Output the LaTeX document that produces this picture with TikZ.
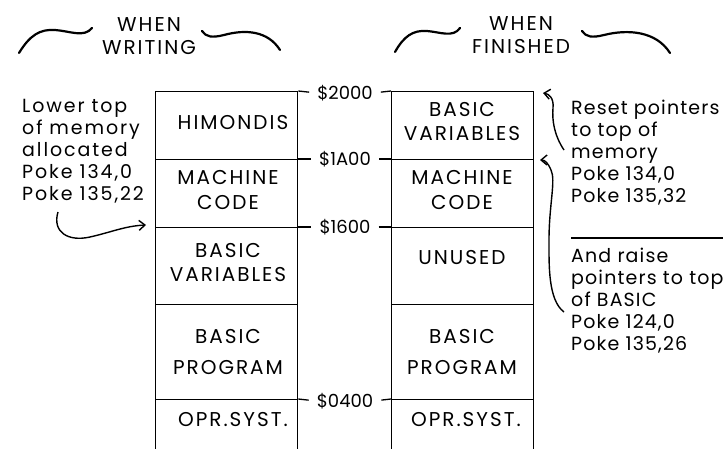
\documentclass[tikz,border=0pt]{standalone}
\usepackage{fontspec}
\setmainfont{Poppins}[LetterSpace=10]
\newfontfamily\addrfont{Poppins}
\newfontfamily\rnotefont{Poppins}[LetterSpace=6]
\usetikzlibrary{arrows.meta}
\begin{document}
\begin{tikzpicture}[x=1pt,y=-1pt,
  wall/.style={line width=1.3pt},
  cell/.style={draw, line width=1.3pt, minimum width=142pt, inner sep=0pt, anchor=north west},
  celltext/.style={align=center, inner sep=0pt, font=\fontsize{20}{24}\selectfont},
  addr/.style={inner sep=0pt, font=\addrfont\fontsize{18}{20}\selectfont},
  head/.style={align=center, inner sep=0pt, font=\fontsize{20}{23}\selectfont},
  note/.style={align=left, inner sep=0pt, anchor=base west, font=\fontsize{19}{22}\selectfont},
  rnote/.style={note, font=\rnotefont\fontsize{19}{22}\selectfont},
  tilde/.style={line width=2.2pt, line cap=round},
  arr/.style={line width=1.4pt, -{Straight Barb[length=6pt,width=10pt]}}
]
\clip (0,0) rectangle (723,448);
\fill[white] (0,0) rectangle (723,448);

% left column cells
\node[cell, minimum height=68pt] (L1) at (155,91) {};
\node[cell, minimum height=68pt] (L2) at (155,159) {};
\node[cell, minimum height=77pt] (L3) at (155,227) {};
\node[cell, minimum height=95pt] (L4) at (155,304) {};
\node[cell, minimum height=70pt] (L5) at (155,399) {};
% right column cells
\node[cell, minimum height=68pt] (R1) at (391,91) {};
\node[cell, minimum height=68pt] (R2) at (391,159) {};
\node[cell, minimum height=77pt] (R3) at (391,227) {};
\node[cell, minimum height=95pt] (R4) at (391,304) {};
\node[cell, minimum height=70pt] (R5) at (391,399) {};

% cell texts
\node[celltext] (tL1) at (233,123) {HIMONDIS};
\node[celltext, font=\fontsize{20}{25}\selectfont] (tL2) at (228,190) {MACHINE\\CODE};
\node[celltext] (tL3) at (228,263) {BASIC\\VARIABLES};
\node[celltext, font=\fontsize{20}{31}\selectfont] (tL4) at (228,352) {BASIC\\PROGRAM};
\node[celltext] (tL5) at (233,420) {OPR.SYST.};
\node[celltext] (tR1) at (462,122) {BASIC\\VARIABLES};
\node[celltext, font=\fontsize{20}{25}\selectfont] (tR2) at (462,190) {MACHINE\\CODE};
\node[celltext] (tR3) at (462,258) {UNUSED};
\node[celltext, font=\fontsize{20}{31}\selectfont] (tR4) at (462,352) {BASIC\\PROGRAM};
\node[celltext] (tR5) at (466,420) {OPR.SYST.};

% addresses with ticks
\node[addr] (d2000) at (345,93) {\$2000};
\node[addr] (d1A00) at (345,159) {\$1A00};
\node[addr] (d1600) at (345,227) {\$1600};
\node[addr] (d0400) at (345,401) {\$0400};
\foreach \d/\a/\b in {d2000/L1/R1, d1A00/L2/R2, d1600/L3/R3, d0400/L5/R5}{
  \draw[wall, shorten >=8pt] (\a.north east) -- (\d.west);
  \draw[wall, shorten <=8pt] (\d.east) -- (\b.north west);
}

% headers
\node[head] (hW) at (149,36) {WHEN\\WRITING};
\node[head] (hF) at (521,35) {WHEN\\FINISHED};
\draw[tilde] (19,53) .. controls (30,35) and (40,29) .. (55,30) .. controls (70,31) and (84,38) .. (92,28);
\draw[tilde] (202,31) .. controls (206,37) and (212,38) .. (224,35) .. controls (246,29) and (268,31) .. (280,50);
\draw[tilde] (395,52) .. controls (404,36) and (413,30) .. (427,31) .. controls (440,32) and (453,38) .. (460,28);
\draw[tilde] (582,31) .. controls (586,37) and (592,38) .. (604,35) .. controls (628,29) and (656,31) .. (670,53);

% left annotation (anchored at the baseline of its last line)
\node[note] (nL) at (22,200) {Lower top\\of memory\\allocated\\Poke 134,0\\Poke 135,22};
\coordinate (a1s) at (58,212);
\coordinate (a1e) at (146,225);
\draw[arr] (a1s) .. controls (52,232) and (68,242) .. (90,237) .. controls (112,232) and (125,226) .. (a1e);

% right annotations (anchored at the baseline of their last lines)
\node[rnote] (nR1) at (571,202) {Reset pointers\\to top of\\memory\\Poke 134,0\\Poke 135,32};
\coordinate (sepA) at (571,238);
\coordinate (sepB) at (723,238);
\draw[wall] (sepA) -- (sepB);
\node[rnote] (nR2) at (571,350) {And raise\\pointers to top\\of BASIC\\Poke 124,0\\Poke 135,26};
\coordinate (b1s) at (564,150);
\coordinate (b1e) at (543,93);
\draw[arr] (b1s) .. controls (554,135) and (552,120) .. (553,108) .. controls (554,98) and (549,94) .. (b1e);
\coordinate (b2s) at (564,312);
\coordinate (b2e) at (540,160);
\draw[arr] (b2s) .. controls (548,300) and (549,265) .. (549,240) .. controls (549,205) and (556,180) .. (551,170) .. controls (548,163) and (545,160) .. (b2e);
\end{tikzpicture}
\end{document}
